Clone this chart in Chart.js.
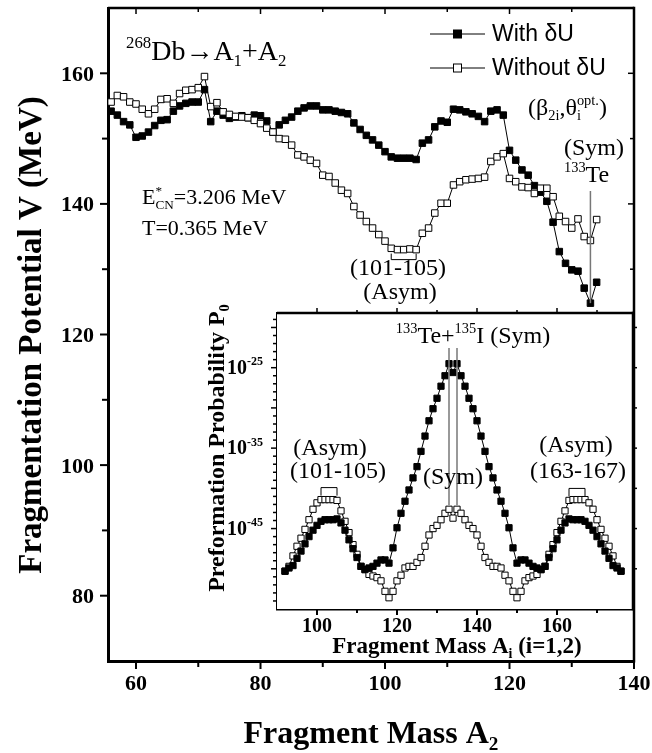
<!DOCTYPE html>
<html><head><meta charset="utf-8">
<script src="https://cdn.jsdelivr.net/npm/chart.js@4.4.1/dist/chart.umd.min.js"></script>
<style>
html,body{margin:0;padding:0;background:#fff;}
#wrap{position:relative;width:652px;height:753px;overflow:hidden;}
#main{position:absolute;left:0;top:0;}
#inset{position:absolute;left:190px;top:300px;}
</style></head><body>
<div id="wrap"><canvas id="main" width="652" height="753"></canvas><canvas id="inset" width="452" height="360"></canvas></div>
<script>
// ---------- data ----------
const massA2 = [56,57,58,59,60,61,62,63,64,65,66,67,68,69,70,71,72,73,74,75,76,77,78,79,80,81,82,83,84,85,86,87,88,89,90,91,92,93,94,95,96,97,98,99,100,101,102,103,104,105,106,107,108,109,110,111,112,113,114,115,116,117,118,119,120,121,122,123,124,125,126,127,128,129,130,131,132,133,134];
const vWithDU = [154.2,153.6,152.6,152.1,150.2,150.4,151.0,152.0,152.8,152.9,154.2,155.0,155.4,155.6,155.6,157.5,152.6,154.2,153.6,153.1,153.3,153.5,153.2,153.6,153.5,152.7,151.0,152.1,152.8,153.3,154.2,154.7,155.0,155.0,154.4,154.4,154.2,154.0,153.8,152.4,151.4,150.5,149.8,149.0,148.0,147.2,147.0,147.0,147.0,146.8,149.3,149.8,151.8,152.7,152.5,154.5,154.4,154.1,153.8,153.4,152.6,154.2,154.4,153.6,148.2,146.7,145.2,144.4,142.8,141.8,140.4,137.2,132.7,130.9,129.9,129.7,127.1,124.8,128.0];
const vWithoutDU = [155.6,156.6,156.4,155.6,155.3,154.5,153.8,154.5,156.0,156.1,155.4,156.9,157.4,157.5,157.8,159.5,154.9,155.5,154.1,153.7,153.4,153.3,153.2,152.8,152.3,151.6,151.0,150.0,149.9,149.0,147.5,147.2,146.7,146.2,144.4,144.2,143.2,142.1,141.6,139.6,138.3,137.3,136.3,135.3,134.3,133.2,133.0,133.0,133.1,133.0,135.5,136.3,138.6,140.1,140.1,142.9,143.4,143.7,143.8,143.9,144.1,146.5,147.2,147.7,143.9,143.4,142.6,142.5,141.6,142.4,142.4,141.1,138.1,137.3,136.3,137.7,135.0,134.4,137.6];

const massAi = [92,93,94,95,96,97,98,99,100,101,102,103,104,105,106,107,108,109,110,111,112,113,114,115,116,117,118,119,120,121,122,123,124,125,126,127,128,129,130,131,132,133,134,135,136,137,138,139,140,141,142,143,144,145,146,147,148,149,150,151,152,153,154,155,156,157,158,159,160,161,162,163,164,165,166,167,168,169,170,171,172,173,174,175,176];
// exponents of P0 (log10 P0)
const log10P0WithDU = [-50.3,-49.9,-49.6,-48.7,-47.8,-46.9,-46.0,-45.2,-44.6,-44.1,-43.9,-43.9,-43.9,-43.8,-44.3,-45.2,-46.4,-47.5,-48.6,-49.7,-50.1,-49.9,-49.7,-49.3,-48.9,-48.9,-49.3,-47.4,-44.9,-43.1,-41.6,-40.2,-38.7,-37.3,-35.4,-33.5,-31.6,-30.1,-28.8,-27.3,-26.0,-24.5,-25.6,-24.5,-26.0,-27.3,-28.8,-30.1,-31.6,-33.5,-35.4,-37.3,-38.7,-40.2,-41.6,-43.1,-44.9,-47.4,-49.3,-48.9,-48.9,-49.3,-49.7,-49.9,-50.1,-49.7,-48.6,-47.5,-46.4,-45.2,-44.3,-43.8,-43.9,-43.9,-43.9,-44.1,-44.6,-45.2,-46.0,-46.9,-47.8,-48.7,-49.6,-49.9,-50.3];
const log10P0WithoutDU = [-50.3,-49.7,-48.4,-47.2,-46.2,-45.1,-43.9,-42.6,-41.8,-41.4,-41.4,-41.4,-41.4,-41.5,-42.8,-44.1,-45.5,-47.0,-48.2,-49.7,-50.1,-50.7,-50.9,-51.1,-51.5,-52.8,-53.6,-52.8,-51.5,-50.8,-49.9,-49.7,-49.7,-49.2,-48.6,-47.2,-45.8,-45.0,-44.6,-43.9,-43.1,-42.6,-43.7,-42.6,-43.1,-43.9,-44.6,-45.0,-45.8,-47.2,-48.6,-49.2,-49.7,-49.7,-49.9,-50.8,-51.5,-52.8,-53.6,-52.8,-51.5,-51.1,-50.9,-50.7,-50.1,-49.7,-48.2,-47.0,-45.5,-44.1,-42.8,-41.5,-41.4,-41.4,-41.4,-41.4,-41.8,-42.6,-43.9,-45.1,-46.2,-47.2,-48.4,-49.7,-50.3];

const mainXTicks = [60,70,80,90,100,110,120,130,140];
const mainXLabels = [60,80,100,120,140];
const mainYTicks = [80,90,100,110,120,130,140,150,160];
const mainYLabels = [80,100,120,140,160];
const insetXTicks = [100,110,120,130,140,150,160,170];
const insetXLabels = [100,120,140,160];
const insetYDecades = [-54,-53,-52,-51,-50,-49,-48,-47,-46,-45,-44,-43,-42,-41,-40,-39,-38,-37,-36,-35,-34,-33,-32,-31,-30,-29,-28,-27,-26,-25,-24,-23,-22,-21,-20,-19];
const insetYLabels = [-25,-35,-45];

// ---------- helpers ----------
const SERIF = "'Liberation Serif','Times New Roman',serif";
const SANS = "'Liberation Sans',Arial,sans-serif";
function fnt(size, weight, family){ return (weight||'normal') + ' ' + size + 'px ' + family; }
function measureRich(ctx, segs, size, weight, family){
  let w = 0;
  for (const s of segs){
    if (s.t != null){ ctx.font = fnt(size,weight,family); w += ctx.measureText(s.t).width; }
    else { ctx.font = fnt(size*0.6,weight,family);
      const a = s.sup ? ctx.measureText(s.sup).width : 0;
      const b = s.sub ? ctx.measureText(s.sub).width : 0;
      w += Math.max(a,b); }
  }
  return w;
}
function drawRich(ctx, segs, x, y, o){
  const size=o.size, weight=o.weight||'normal', family=o.family||SERIF;
  const total = measureRich(ctx, segs, size, weight, family);
  let cx = o.align==='center' ? x-total/2 : (o.align==='right' ? x-total : x);
  ctx.save();
  ctx.fillStyle = o.color||'#000'; ctx.textBaseline='alphabetic'; ctx.textAlign='left';
  for (const s of segs){
    if (s.t != null){ ctx.font=fnt(size,weight,family); ctx.fillText(s.t,cx,y); cx+=ctx.measureText(s.t).width; }
    else { ctx.font=fnt(size*0.6,weight,family); let a=0,b=0;
      if (s.sup){ ctx.fillText(s.sup,cx,y-size*0.42); a=ctx.measureText(s.sup).width; }
      if (s.sub){ ctx.fillText(s.sub,cx,y+size*0.22); b=ctx.measureText(s.sub).width; }
      cx += Math.max(a,b); }
  }
  ctx.restore();
}
function line(ctx,x1,y1,x2,y2,w,c){ ctx.save(); ctx.strokeStyle=c||'#000'; ctx.lineWidth=w; ctx.beginPath(); ctx.moveTo(x1,y1); ctx.lineTo(x2,y2); ctx.stroke(); ctx.restore(); }

// ---------- main chart decorations ----------
const mainDecor = {
  id:'mainDecor',
  afterDraw(chart){
    const ctx=chart.ctx, xs=chart.scales.x, ys=chart.scales.y, ca=chart.chartArea;
    // frame top & right
    line(ctx, ca.left, ca.top, ca.right, ca.top, 2.5);
    line(ctx, ca.right, ca.top-1.2, ca.right, ca.bottom+1.5, 2.5);
    // ticks + tick labels
    for (const v of mainXTicks){
      const px=xs.getPixelForValue(v), major=mainXLabels.includes(v);
      line(ctx, px, ca.bottom, px, ca.bottom+(major?8:6), 2);
      line(ctx, px, ca.top, px, ca.top+(major?6:4), 1.5);
      if (major) drawRich(ctx, [{t:String(v)}], px, 690, {size:22, weight:'bold', align:'center'});
    }
    for (const v of mainYTicks){
      const py=ys.getPixelForValue(v), major=mainYLabels.includes(v);
      line(ctx, ca.left-(major?8:6), py, ca.left, py, 2);
      line(ctx, ca.right-(major?6:4), py, ca.right, py, 1.5);
      if (major) drawRich(ctx, [{t:String(v)}], 94, py+7.5, {size:22, weight:'bold', align:'right'});
    }
    // axis titles
    ctx.save(); ctx.translate(30, 335); ctx.rotate(-Math.PI/2);
    drawRich(ctx, [{t:'Fragmentation Potential V (MeV)'}], 0, 11, {size:33, weight:'bold', align:'center'});
    ctx.restore();
    drawRich(ctx, [{t:'Fragment Mass A'},{sub:'2'}], 371, 743, {size:32, weight:'bold', align:'center'});
    // reaction label
    drawRich(ctx, [{sup:'268'},{t:'Db\u2192A'},{sub:'1'},{t:'+A'},{sub:'2'}], 126, 60, {size:28});
    // legend
    const legRows=[{label:'With \u03b4U', fill:'#000', y:34},{label:'Without \u03b4U', fill:'#fff', y:68}];
    for (const r of legRows){
      line(ctx, 430, r.y, 485, r.y, 1);
      ctx.save(); ctx.fillStyle=r.fill; ctx.strokeStyle='#000'; ctx.lineWidth=1;
      ctx.fillRect(453.5, r.y-4, 8, 8); ctx.strokeRect(453.5, r.y-4, 8, 8); ctx.restore();
      ctx.save(); ctx.font=fnt(23,'normal',SANS); ctx.fillStyle='#000'; ctx.textBaseline='middle'; ctx.fillText(r.label, 492, r.y+1); ctx.restore();
    }
    drawRich(ctx, [{t:'(\u03b2'},{sub:'2i'},{t:',\u03b8'},{sup:'opt.',sub:'i'},{t:')'}], 528, 115, {size:24});
    drawRich(ctx, [{t:'E'},{sup:'*',sub:'CN'},{t:'=3.206 MeV'}], 142, 204, {size:22});
    drawRich(ctx, [{t:'T=0.365 MeV'}], 142, 235, {size:22});
    // (Sym) 133Te
    drawRich(ctx, [{t:'(Sym)'}], 594, 155, {size:24, align:'center'});
    drawRich(ctx, [{sup:'133'},{t:'Te'}], 564, 182, {size:24});
    const i133 = massA2.indexOf(133);
    const x133 = xs.getPixelForValue(133);
    line(ctx, x133, 191, x133, ys.getPixelForValue(vWithDU[i133]), 1.5, '#777');
    // (101-105) bracket in main panel
    const xb1 = xs.getPixelForValue(101), xb2 = xs.getPixelForValue(105);
    const yb = ys.getPixelForValue(vWithoutDU[massA2.indexOf(103)]);
    ctx.save(); ctx.strokeStyle='#000'; ctx.lineWidth=1; ctx.beginPath();
    ctx.moveTo(xb1, yb+4); ctx.lineTo(xb1, yb+10); ctx.lineTo(xb2, yb+10); ctx.lineTo(xb2, yb+4); ctx.stroke(); ctx.restore();
    drawRich(ctx, [{t:'(101-105)'}], 398, 275, {size:24, align:'center'});
    drawRich(ctx, [{t:'(Asym)'}], 400, 299, {size:24, align:'center'});
  }
};

new Chart(document.getElementById('main').getContext('2d'), {
  type:'line',
  data:{datasets:[
    {label:'Without \u03b4U', data:massA2.map((a,i)=>({x:a,y:vWithoutDU[i]})), borderColor:'#000', borderWidth:1, pointStyle:'rect', pointRadius:4.6, pointBorderWidth:1, pointBorderColor:'#000', pointBackgroundColor:'#fff', fill:false, tension:0},
    {label:'With \u03b4U', data:massA2.map((a,i)=>({x:a,y:vWithDU[i]})), borderColor:'#000', borderWidth:1, pointStyle:'rect', pointRadius:4.6, pointBorderWidth:1, pointBorderColor:'#000', pointBackgroundColor:'#000', fill:false, tension:0}
  ]},
  options:{
    responsive:false, animation:false, events:[], devicePixelRatio:1,
    layout:{padding:{left:0, top:8, right:18, bottom:0}},
    plugins:{legend:{display:false}, tooltip:{enabled:false}},
    scales:{
      x:{type:'linear', position:'bottom', min:55.5, max:140,
        afterBuildTicks:s=>{ s.ticks = mainXTicks.map(v=>({value:v})); },
        afterFit:s=>{ s.height = 92; },
        grid:{display:false}, border:{display:true, color:'#000', width:3},
        ticks:{display:false}},
      y:{type:'linear', position:'left', min:70, max:170,
        afterBuildTicks:s=>{ s.ticks = mainYTicks.map(v=>({value:v})); },
        afterFit:s=>{ s.width = 108; },
        grid:{display:false}, border:{display:true, color:'#000', width:3},
        ticks:{display:false}}
    }
  },
  plugins:[mainDecor]
});

// ---------- inset ----------
const insetDecor = {
  id:'insetDecor',
  beforeDatasetsDraw(chart){
    const ctx=chart.ctx, ca=chart.chartArea;
    ctx.save(); ctx.fillStyle='#fff'; ctx.fillRect(ca.left, ca.top, ca.right-ca.left, ca.bottom-ca.top); ctx.restore();
  },
  afterDraw(chart){
    const ctx=chart.ctx, xs=chart.scales.x, ys=chart.scales.y, ca=chart.chartArea;
    line(ctx, ca.left, ca.top, ca.right, ca.top, 2.5);
    line(ctx, ca.right, ca.top-1.2, ca.right, ca.bottom+1.2, 2.5);
    for (const v of insetXTicks){
      const px=xs.getPixelForValue(v), major=insetXLabels.includes(v);
      line(ctx, px, ca.bottom, px, ca.bottom+(major?6:4), 2);
      line(ctx, px, ca.top, px, ca.top-(major?5:3), 1.5);
      if (major) drawRich(ctx, [{t:String(v)}], px, 332, {size:20, weight:'bold', align:'center'});
    }
    for (const k of insetYDecades){
      const py=ys.getPixelForValue(Math.pow(10,k)), major=(k%5===0);
      line(ctx, ca.left-(major?6:4), py, ca.left, py, 1.5);
      if (major) line(ctx, ca.right, py, ca.right+4, py, 1.5);
    }
    for (const k of insetYLabels){
      const py=ys.getPixelForValue(Math.pow(10,k));
      drawRich(ctx, [{t:'10'},{sup:String(k)}], ca.left-14, py+6, {size:20, weight:'bold', align:'right'});
    }
    // titles
    ctx.save(); ctx.translate(26, 148); ctx.rotate(-Math.PI/2);
    drawRich(ctx, [{t:'Preformation Probability P'},{sub:'0'}], 0, 8, {size:24, weight:'bold', align:'center'});
    ctx.restore();
    drawRich(ctx, [{t:'Fragment Mass A'},{sub:'i'},{t:' (i=1,2)'}], 267, 353, {size:23, weight:'bold', align:'center'});
    // labels & brackets
    drawRich(ctx, [{sup:'133'},{t:'Te+'},{sup:'135'},{t:'I (Sym)'}], 283, 43, {size:24, align:'center'});
    for (const a of [133,135]){
      const px=xs.getPixelForValue(a);
      line(ctx, px, 48, px, ys.getPixelForValue(Math.pow(10, log10P0WithoutDU[massAi.indexOf(a)]))-4, 1.5, '#777');
    }
    drawRich(ctx, [{t:'(Sym)'}], 263, 184, {size:24, align:'center'});
    drawRich(ctx, [{t:'(Asym)'}], 140, 155, {size:24, align:'center'});
    drawRich(ctx, [{t:'(101-105)'}], 148, 178, {size:24, align:'center'});
    drawRich(ctx, [{t:'(Asym)'}], 386, 152, {size:24, align:'center'});
    drawRich(ctx, [{t:'(163-167)'}], 388, 178, {size:24, align:'center'});
    for (const [a1,a2] of [[101,105],[163,167]]){
      const x1=xs.getPixelForValue(a1), x2=xs.getPixelForValue(a2);
      const yy=ys.getPixelForValue(Math.pow(10, log10P0WithoutDU[massAi.indexOf(a1)]));
      ctx.save(); ctx.strokeStyle='#000'; ctx.lineWidth=1; ctx.beginPath();
      ctx.moveTo(x1, yy-4); ctx.lineTo(x1, yy-12); ctx.lineTo(x2, yy-12); ctx.lineTo(x2, yy-4); ctx.stroke(); ctx.restore();
    }
  }
};

new Chart(document.getElementById('inset').getContext('2d'), {
  type:'line',
  data:{datasets:[
    {label:'With \u03b4U', data:massAi.map((a,i)=>({x:a,y:Math.pow(10,log10P0WithDU[i])})), borderColor:'#000', borderWidth:1, pointStyle:'rect', pointRadius:4.4, pointBorderWidth:1, pointBorderColor:'#000', pointBackgroundColor:'#000', fill:false, tension:0},
    {label:'Without \u03b4U', data:massAi.map((a,i)=>({x:a,y:Math.pow(10,log10P0WithoutDU[i])})), borderColor:'#000', borderWidth:1, pointStyle:'rect', pointRadius:4.4, pointBorderWidth:1, pointBorderColor:'#000', pointBackgroundColor:'#fff', fill:false, tension:0}
  ]},
  options:{
    responsive:false, animation:false, events:[], devicePixelRatio:1,
    layout:{padding:{left:0, top:13, right:9, bottom:0}},
    plugins:{legend:{display:false}, tooltip:{enabled:false}},
    scales:{
      x:{type:'linear', position:'bottom', min:90, max:179,
        afterBuildTicks:s=>{ s.ticks = insetXTicks.map(v=>({value:v})); },
        afterFit:s=>{ s.height = 51; },
        grid:{display:false}, border:{display:true, color:'#000', width:2.5},
        ticks:{display:false}},
      y:{type:'logarithmic', position:'left', min:1e-55, max:Math.pow(10,-18.2),
        afterBuildTicks:s=>{ s.ticks = insetYDecades.map(k=>({value:Math.pow(10,k)})); },
        afterFit:s=>{ s.width = 87; },
        grid:{display:false}, border:{display:true, color:'#000', width:2.5},
        ticks:{display:false}}
    }
  },
  plugins:[insetDecor]
});
</script>
</body></html>
